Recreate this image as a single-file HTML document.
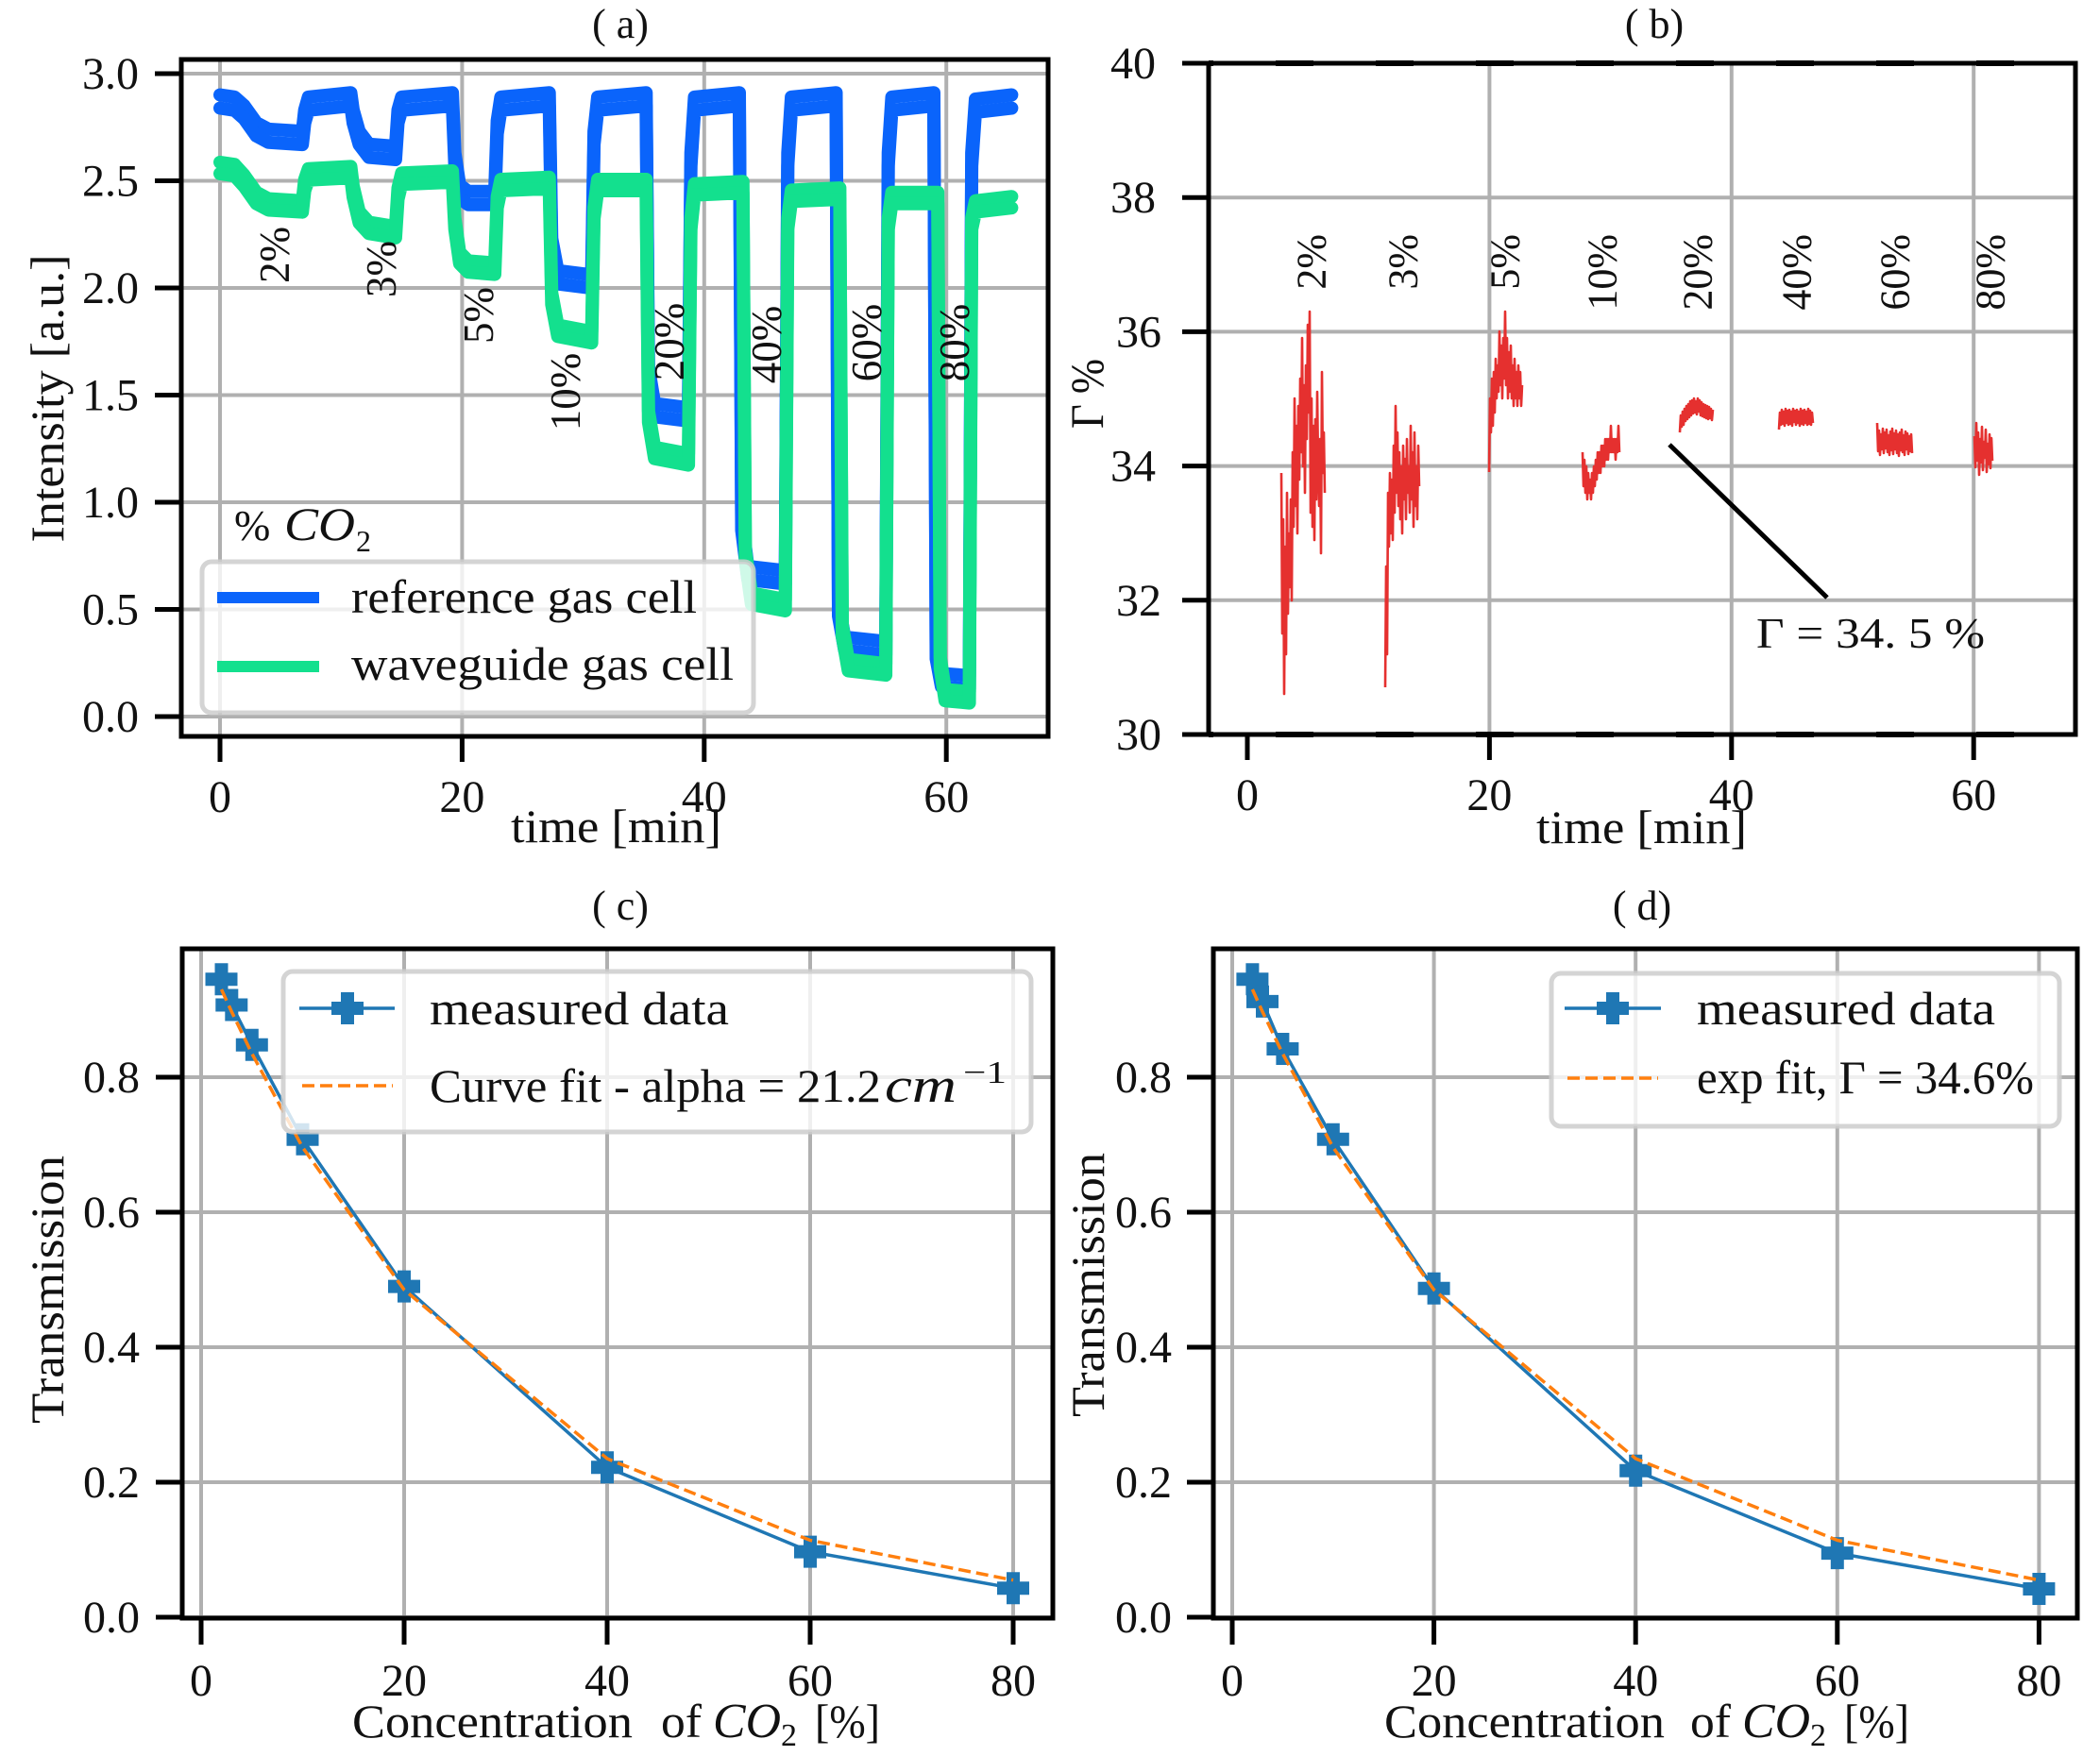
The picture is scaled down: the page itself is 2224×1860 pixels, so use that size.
<!DOCTYPE html>
<html><head><meta charset="utf-8">
<style>
html,body{margin:0;padding:0;background:#fff;}
svg{display:block;}
text{font-family:"Liberation Serif","DejaVu Serif",serif;fill:#111;}
</style></head>
<body>
<svg width="2224" height="1860" viewBox="0 0 2224 1860" xmlns="http://www.w3.org/2000/svg" font-family="Liberation Serif, DejaVu Serif, serif">
<defs>
<clipPath id="ca"><rect x="192" y="63" width="918" height="717"/></clipPath>
<clipPath id="cb"><rect x="1280" y="67" width="918" height="711"/></clipPath>
<path id="P" d="M-7,-17 H7 V-7 H17 V7 H7 V17 H-7 V7 H-17 V-7 H-7 Z" fill="#1f77b4"/>
<path id="bluePath" fill="none" stroke="#0a64fb" stroke-width="14" stroke-linejoin="round" stroke-linecap="round" d="M233,107.5 L248.4,109.8 L258.6,118.9 L271.5,137 L284.3,143.8 L320.2,146.1 L322.7,123.4 L326.6,109.8 L371.5,105.2 L374,123.4 L380.4,146.1 L390.7,159.7 L418.9,162 L421.5,123.4 L425.3,109.8 L479.1,105.2 L481.7,168.8 L486.8,202.9 L495.8,209.7 L524,209.7 L526.6,134.8 L530.4,109.8 L581.7,105.2 L584.3,259.6 L590.7,293.7 L626.6,298.2 L629.1,146.1 L633,109.8 L684.3,105.2 L686.8,395.8 L693.2,434.4 L729.1,438.9 L731.7,168.8 L735.5,109.8 L783,105.2 L785.5,554.7 L792,606.9 L831.7,611.5 L834.3,168.8 L838.1,109.8 L885.5,105.2 L888,645.5 L894.5,681.8 L938.1,686.4 L940.7,168.8 L944.5,109.8 L989,105.2 L991.5,690.9 L997,720.4 L1026.6,722.7 L1029.1,168.8 L1033,112 L1071.4,107.5"/>
<path id="greenPath" fill="none" stroke="#13e08e" stroke-width="14" stroke-linejoin="round" stroke-linecap="round" d="M233,177.9 L248.4,180.2 L258.6,191.5 L271.5,209.7 L284.3,216.5 L320.2,218.7 L322.7,196 L326.6,184.7 L371.5,182.4 L374,202.9 L380.4,230.1 L390.7,241.4 L418.9,246 L421.5,205.1 L425.3,189.2 L479.1,187 L481.7,236.9 L486.8,273.2 L495.8,282.3 L524,284.6 L526.6,214.2 L530.4,196 L581.7,193.8 L584.3,316.4 L590.7,350.4 L626.6,357.2 L629.1,225.5 L633,196 L684.3,196 L686.8,441.2 L693.2,479.8 L729.1,486.6 L731.7,236.9 L735.5,200.6 L786.8,198.3 L789.4,588.8 L795.8,634.2 L831.7,641 L834.3,236.9 L838.1,207.4 L889.4,205.1 L892,668.2 L898.4,704.5 L938.1,709.1 L940.7,236.9 L944.5,209.7 L993.2,209.7 L995.8,702.3 L1000.9,736.3 L1026.6,738.6 L1029.1,236.9 L1033,218.7 L1071.4,214.2"/>
</defs>

<!-- ================= PANEL (a) ================= -->
<text x="657" y="40" font-size="44" text-anchor="middle">( a)</text>
<g stroke="#b0b0b0" stroke-width="4">
  <line x1="233" y1="63" x2="233" y2="780"/>
  <line x1="489.4" y1="63" x2="489.4" y2="780"/>
  <line x1="745.8" y1="63" x2="745.8" y2="780"/>
  <line x1="1002.2" y1="63" x2="1002.2" y2="780"/>
  <line x1="192" y1="759" x2="1110" y2="759"/>
  <line x1="192" y1="645.5" x2="1110" y2="645.5"/>
  <line x1="192" y1="532" x2="1110" y2="532"/>
  <line x1="192" y1="418.5" x2="1110" y2="418.5"/>
  <line x1="192" y1="305" x2="1110" y2="305"/>
  <line x1="192" y1="191.5" x2="1110" y2="191.5"/>
  <line x1="192" y1="78" x2="1110" y2="78"/>
</g>
<g clip-path="url(#ca)">
  <use href="#bluePath" transform="translate(0,-7)"/>
  <use href="#bluePath" transform="translate(0,7)"/>
  <use href="#greenPath" transform="translate(0,-6)"/>
  <use href="#greenPath" transform="translate(0,6)"/>
</g>
<g font-size="45" text-anchor="middle" dominant-baseline="central" font-family="Liberation Serif, serif">
  <text transform="translate(291,270) rotate(-90)">2%</text>
  <text transform="translate(404,285) rotate(-90)">3%</text>
  <text transform="translate(507,334) rotate(-90)">5%</text>
  <text transform="translate(599,415) rotate(-90)">10%</text>
  <text transform="translate(709,362) rotate(-90)">20%</text>
  <text transform="translate(812,365) rotate(-90)">40%</text>
  <text transform="translate(918,363) rotate(-90)">60%</text>
  <text transform="translate(1011,363) rotate(-90)">80%</text>
</g>
<text x="248" y="572" font-size="46">%</text>
<text x="301" y="572" font-size="50" font-style="italic" textLength="75" lengthAdjust="spacingAndGlyphs">CO</text>
<text x="377" y="584" font-size="32">2</text>
<rect x="214" y="595" width="584" height="160" rx="10" ry="10" fill="#fff" fill-opacity="0.8" stroke="#cccccc" stroke-opacity="0.85" stroke-width="5"/>
<line x1="230" y1="633" x2="338" y2="633" stroke="#0a64fb" stroke-width="12"/>
<line x1="230" y1="706" x2="338" y2="706" stroke="#13e08e" stroke-width="12"/>
<text x="372" y="649" font-size="50" textLength="366" lengthAdjust="spacingAndGlyphs">reference gas cell</text>
<text x="372" y="720" font-size="50" textLength="405" lengthAdjust="spacingAndGlyphs">waveguide gas cell</text>
<rect x="192" y="63" width="918" height="717" fill="none" stroke="#000" stroke-width="5"/>
<g stroke="#000" stroke-width="5">
  <line x1="164" y1="759" x2="192" y2="759"/>
  <line x1="164" y1="645.5" x2="192" y2="645.5"/>
  <line x1="164" y1="532" x2="192" y2="532"/>
  <line x1="164" y1="418.5" x2="192" y2="418.5"/>
  <line x1="164" y1="305" x2="192" y2="305"/>
  <line x1="164" y1="191.5" x2="192" y2="191.5"/>
  <line x1="164" y1="78" x2="192" y2="78"/>
  <line x1="233" y1="780" x2="233" y2="807"/>
  <line x1="489.4" y1="780" x2="489.4" y2="807"/>
  <line x1="745.8" y1="780" x2="745.8" y2="807"/>
  <line x1="1002.2" y1="780" x2="1002.2" y2="807"/>
</g>
<g font-size="48" text-anchor="end" font-family="Liberation Serif, serif">
  <text x="147" y="775">0.0</text>
  <text x="147" y="661.5">0.5</text>
  <text x="147" y="548">1.0</text>
  <text x="147" y="434.5">1.5</text>
  <text x="147" y="321">2.0</text>
  <text x="147" y="207.5">2.5</text>
  <text x="147" y="94">3.0</text>
</g>
<g font-size="48" text-anchor="middle" font-family="Liberation Serif, serif">
  <text x="233" y="860">0</text>
  <text x="489.4" y="860">20</text>
  <text x="745.8" y="860">40</text>
  <text x="1002.2" y="860">60</text>
</g>
<text x="541" y="892" font-size="50" textLength="223" lengthAdjust="spacingAndGlyphs">time [min]</text>
<text transform="translate(50,422) rotate(-90)" font-size="50" text-anchor="middle" dominant-baseline="central" textLength="305" lengthAdjust="spacingAndGlyphs">Intensity [a.u.]</text>

<!-- ================= PANEL (b) ================= -->
<text x="1752" y="40" font-size="44" text-anchor="middle">( b)</text>
<g stroke="#b0b0b0" stroke-width="4">
  <line x1="1577.4" y1="67" x2="1577.4" y2="778"/>
  <line x1="1833.8" y1="67" x2="1833.8" y2="778"/>
  <line x1="2090.2" y1="67" x2="2090.2" y2="778"/>
  <line x1="1280" y1="209.2" x2="2198" y2="209.2"/>
  <line x1="1280" y1="351.4" x2="2198" y2="351.4"/>
  <line x1="1280" y1="493.6" x2="2198" y2="493.6"/>
  <line x1="1280" y1="635.8" x2="2198" y2="635.8"/>
</g>
<g clip-path="url(#cb)" fill="none" stroke="#e5302f" stroke-width="2.6" stroke-linejoin="round">
<polyline points="1357,501 1358,671 1359,550 1360,735 1361,579 1362,693 1363,522 1364,650 1365,565 1366,622 1367,529 1368,636 1369,479 1370,558 1371,422 1372,536 1373,451 1374,565 1375,430 1376,508 1377,401 1378,479 1379,358 1380,494 1381,408 1382,522 1383,387 1384,465 1385,344 1386,437 1387,330 1388,543 1389,422 1390,558 1391,451 1392,572 1393,444 1394,529 1395,415 1396,494 1397,536 1398,465 1399,586 1400,394 1401,501 1402,458 1403,522"/>
<polyline points="1467,728 1468,600 1469,693 1470,522 1471,579 1472,501 1473,565 1474,508 1475,572 1476,472 1477,543 1478,430 1479,522 1480,458 1481,536 1482,479 1483,550 1484,494 1485,565 1486,472 1487,529 1488,486 1489,550 1490,465 1491,522 1492,494 1493,543 1494,451 1495,529 1496,479 1497,558 1498,458 1499,536 1500,494 1501,550 1502,472 1503,515"/>
<polyline points="1577,500 1578,422 1579,458 1580,401 1581,451 1582,394 1583,437 1584,380 1585,422 1586,387 1587,415 1588,351 1589,408 1590,366 1591,422 1592,358 1593,401 1594,330 1595,408 1596,358 1597,422 1598,373 1599,415 1600,366 1601,422 1602,387 1603,430 1604,380 1605,422 1606,394 1607,430 1608,387 1609,422 1610,394 1611,430 1612,408"/>
<polyline points="1676,479 1677,515 1678,487 1679,522 1680,494 1681,529 1682,501 1683,522 1684,508 1685,529 1686,501 1687,522 1688,494 1689,515 1690,487 1691,508 1692,479 1693,501 1694,479 1695,501 1696,472 1697,494 1698,472 1699,494 1700,465 1701,487 1702,465 1703,487 1704,465 1705,479 1706,451 1707,479 1708,465 1709,479 1710,465 1711,487 1712,465 1713,479 1714,451 1715,479"/>
<polyline points="1779,458 1780,440 1781,452 1782,436 1783,450 1784,433 1785,446 1786,430 1787,444 1788,428 1789,442 1790,425 1791,440 1792,424 1793,438 1794,422 1795,437 1796,425 1797,439 1798,422 1799,436 1800,424 1801,440 1802,426 1803,441 1804,428 1805,442 1806,429 1807,443 1808,430 1809,444 1810,431 1811,443 1812,433 1813,445 1814,434"/>
<polyline points="1884,455 1885,437 1886,450 1887,434 1888,449 1889,436 1890,451 1891,433 1892,448 1893,435 1894,450 1895,434 1896,449 1897,436 1898,451 1899,433 1900,447 1901,435 1902,450 1903,434 1904,448 1905,436 1906,451 1907,433 1908,449 1909,435 1910,450 1911,434 1912,448 1913,436 1914,450 1915,433 1916,449 1917,435 1918,450 1919,437 1920,448"/>
<polyline points="1988,448 1989,478 1990,456 1991,482 1992,460 1993,476 1994,454 1995,480 1996,458 1997,475 1998,455 1999,479 2000,461 2001,482 2002,457 2003,477 2004,454 2005,481 2006,459 2007,476 2008,456 2009,480 2010,460 2011,483 2012,458 2013,477 2014,455 2015,479 2016,461 2017,482 2018,457 2019,476 2020,459 2021,481 2022,462 2023,478 2024,460 2025,480"/>
<polyline points="2091,462 2092,495 2093,448 2094,488 2095,458 2096,503 2097,465 2098,490 2099,452 2100,498 2101,468 2102,485 2103,455 2104,500 2105,470 2106,492 2107,460 2108,496 2109,464 2110,488"/>
</g>
<line x1="1768" y1="471" x2="1935" y2="633" stroke="#000" stroke-width="5"/>
<text x="1860" y="686" font-size="46" textLength="242" lengthAdjust="spacingAndGlyphs">Γ = 34. 5 %</text>
<g font-size="44" text-anchor="end" dominant-baseline="central" font-family="Liberation Serif, serif">
  <text transform="translate(1389,248) rotate(-90)">2%</text>
  <text transform="translate(1486,248) rotate(-90)">3%</text>
  <text transform="translate(1594,248) rotate(-90)">5%</text>
  <text transform="translate(1697,248) rotate(-90)">10%</text>
  <text transform="translate(1798,248) rotate(-90)">20%</text>
  <text transform="translate(1903,248) rotate(-90)">40%</text>
  <text transform="translate(2007,248) rotate(-90)">60%</text>
  <text transform="translate(2108,248) rotate(-90)">80%</text>
</g>
<rect x="1280" y="67" width="918" height="711" fill="none" stroke="#000" stroke-width="5"/>
<g stroke="#000" stroke-width="6" stroke-dasharray="40 66" stroke-dashoffset="35">
  <line x1="1280" y1="67" x2="2198" y2="67"/>
  <line x1="1280" y1="778" x2="2198" y2="778"/>
</g>
<g stroke="#000" stroke-width="5">
  <line x1="1252" y1="67" x2="1280" y2="67"/>
  <line x1="1252" y1="209.2" x2="1280" y2="209.2"/>
  <line x1="1252" y1="351.4" x2="1280" y2="351.4"/>
  <line x1="1252" y1="493.6" x2="1280" y2="493.6"/>
  <line x1="1252" y1="635.8" x2="1280" y2="635.8"/>
  <line x1="1252" y1="778" x2="1280" y2="778"/>
  <line x1="1321" y1="778" x2="1321" y2="805"/>
  <line x1="1577.4" y1="778" x2="1577.4" y2="805"/>
  <line x1="1833.8" y1="778" x2="1833.8" y2="805"/>
  <line x1="2090.2" y1="778" x2="2090.2" y2="805"/>
</g>
<g font-size="48" text-anchor="end" font-family="Liberation Serif, serif">
  <text x="1224" y="83">40</text>
  <text x="1224" y="225.2">38</text>
  <text x="1230" y="367.4">36</text>
  <text x="1224" y="509.6">34</text>
  <text x="1230" y="651.8">32</text>
  <text x="1230" y="794">30</text>
</g>
<g font-size="48" text-anchor="middle" font-family="Liberation Serif, serif">
  <text x="1321" y="858">0</text>
  <text x="1577.4" y="858">20</text>
  <text x="1833.8" y="858">40</text>
  <text x="2090.2" y="858">60</text>
</g>
<text x="1627" y="893" font-size="50" textLength="223" lengthAdjust="spacingAndGlyphs">time [min]</text>
<text transform="translate(1151,417) rotate(-90)" font-size="50" text-anchor="middle" dominant-baseline="central" textLength="74" lengthAdjust="spacingAndGlyphs">Γ %</text>

<!-- ================= PANEL (c) ================= -->
<text x="657" y="974" font-size="44" text-anchor="middle">( c)</text>
<g stroke="#b0b0b0" stroke-width="4">
  <line x1="213" y1="1005" x2="213" y2="1714"/>
  <line x1="428" y1="1005" x2="428" y2="1714"/>
  <line x1="643" y1="1005" x2="643" y2="1714"/>
  <line x1="858" y1="1005" x2="858" y2="1714"/>
  <line x1="1073" y1="1005" x2="1073" y2="1714"/>
  <line x1="193" y1="1713" x2="1115" y2="1713"/>
  <line x1="193" y1="1570" x2="1115" y2="1570"/>
  <line x1="193" y1="1427" x2="1115" y2="1427"/>
  <line x1="193" y1="1284" x2="1115" y2="1284"/>
  <line x1="193" y1="1141" x2="1115" y2="1141"/>
</g>
<polyline fill="none" stroke="#1f77b4" stroke-width="3.5" stroke-linejoin="round" points="234.5,1037.3 245.3,1064.5 266.8,1106.7 320.5,1206.8 428,1362.6 643,1554.3 858,1643.6 1073,1682.3"/>
<g>
  <use href="#P" x="234.5" y="1037.3"/>
  <use href="#P" x="245.3" y="1064.5"/>
  <use href="#P" x="266.8" y="1106.7"/>
  <use href="#P" x="320.5" y="1206.8"/>
  <use href="#P" x="428" y="1362.6"/>
  <use href="#P" x="643" y="1554.3"/>
  <use href="#P" x="858" y="1643.6"/>
  <use href="#P" x="1073" y="1682.3"/>
</g>
<polyline fill="none" stroke="#ff7f0e" stroke-width="3.5" stroke-dasharray="13 6" points="234.5,1048 245.3,1071.6 266.8,1116 320.5,1215.4 428,1366.2 643,1545 858,1631.5 1073,1673.7"/>
<rect x="300" y="1029" width="792" height="170" rx="10" ry="10" fill="#fff" fill-opacity="0.8" stroke="#cccccc" stroke-opacity="0.85" stroke-width="5"/>
<line x1="317" y1="1068" x2="418" y2="1068" stroke="#1f77b4" stroke-width="3.5"/>
<use href="#P" x="368" y="1068"/>
<line x1="320" y1="1150" x2="416" y2="1150" stroke="#ff7f0e" stroke-width="3.5" stroke-dasharray="13 6"/>
<text x="455" y="1085" font-size="50" textLength="317" lengthAdjust="spacingAndGlyphs">measured data</text>
<text x="455" y="1167" font-size="50" textLength="478" lengthAdjust="spacingAndGlyphs">Curve fit - alpha = 21.2</text>
<text x="937" y="1167" font-size="52" font-style="italic" textLength="76" lengthAdjust="spacingAndGlyphs">cm</text>
<text x="1020" y="1147" font-size="34" textLength="46" lengthAdjust="spacingAndGlyphs">−1</text>
<rect x="193" y="1005" width="922" height="709" fill="none" stroke="#000" stroke-width="5"/>
<g stroke="#000" stroke-width="5">
  <line x1="165" y1="1713" x2="193" y2="1713"/>
  <line x1="165" y1="1570" x2="193" y2="1570"/>
  <line x1="165" y1="1427" x2="193" y2="1427"/>
  <line x1="165" y1="1284" x2="193" y2="1284"/>
  <line x1="165" y1="1141" x2="193" y2="1141"/>
  <line x1="213" y1="1714" x2="213" y2="1742"/>
  <line x1="428" y1="1714" x2="428" y2="1742"/>
  <line x1="643" y1="1714" x2="643" y2="1742"/>
  <line x1="858" y1="1714" x2="858" y2="1742"/>
  <line x1="1073" y1="1714" x2="1073" y2="1742"/>
</g>
<g font-size="48" text-anchor="end" font-family="Liberation Serif, serif">
  <text x="148" y="1729">0.0</text>
  <text x="148" y="1586">0.2</text>
  <text x="148" y="1443">0.4</text>
  <text x="148" y="1300">0.6</text>
  <text x="148" y="1157">0.8</text>
</g>
<g font-size="48" text-anchor="middle" font-family="Liberation Serif, serif">
  <text x="213" y="1796">0</text>
  <text x="428" y="1796">20</text>
  <text x="643" y="1796">40</text>
  <text x="858" y="1796">60</text>
  <text x="1073" y="1796">80</text>
</g>
<text x="373" y="1840" font-size="50" textLength="297" lengthAdjust="spacingAndGlyphs">Concentration</text>
<text x="700" y="1840" font-size="50" textLength="43" lengthAdjust="spacingAndGlyphs">of</text>
<text x="755" y="1840" font-size="52" font-style="italic" textLength="72" lengthAdjust="spacingAndGlyphs">CO</text>
<text x="827" y="1849" font-size="34">2</text>
<text x="863" y="1840" font-size="50" textLength="69" lengthAdjust="spacingAndGlyphs">[%]</text>
<text transform="translate(50,1366) rotate(-90)" font-size="50" text-anchor="middle" dominant-baseline="central" textLength="284" lengthAdjust="spacingAndGlyphs">Transmission</text>

<!-- ================= PANEL (d) ================= -->
<text x="1739" y="974" font-size="44" text-anchor="middle">( d)</text>
<g stroke="#b0b0b0" stroke-width="4">
  <line x1="1305" y1="1005" x2="1305" y2="1714"/>
  <line x1="1518.6" y1="1005" x2="1518.6" y2="1714"/>
  <line x1="1732.2" y1="1005" x2="1732.2" y2="1714"/>
  <line x1="1945.8" y1="1005" x2="1945.8" y2="1714"/>
  <line x1="2159.4" y1="1005" x2="2159.4" y2="1714"/>
  <line x1="1285" y1="1713" x2="2200" y2="1713"/>
  <line x1="1285" y1="1570" x2="2200" y2="1570"/>
  <line x1="1285" y1="1427" x2="2200" y2="1427"/>
  <line x1="1285" y1="1284" x2="2200" y2="1284"/>
  <line x1="1285" y1="1141" x2="2200" y2="1141"/>
</g>
<polyline fill="none" stroke="#1f77b4" stroke-width="3.5" stroke-linejoin="round" points="1326.4,1037.3 1337,1060.9 1358.4,1111 1411.8,1206.8 1518.6,1364.8 1732.2,1557.8 1945.8,1645.1 2159.4,1683"/>
<g>
  <use href="#P" x="1326.4" y="1037.3"/>
  <use href="#P" x="1337" y="1060.9"/>
  <use href="#P" x="1358.4" y="1111"/>
  <use href="#P" x="1411.8" y="1206.8"/>
  <use href="#P" x="1518.6" y="1364.8"/>
  <use href="#P" x="1732.2" y="1557.8"/>
  <use href="#P" x="1945.8" y="1645.1"/>
  <use href="#P" x="2159.4" y="1683"/>
</g>
<polyline fill="none" stroke="#ff7f0e" stroke-width="3.5" stroke-dasharray="13 6" points="1326.4,1048 1337,1071.6 1358.4,1116 1411.8,1215.4 1518.6,1366.2 1732.2,1545 1945.8,1631.5 2159.4,1673.7"/>
<rect x="1643" y="1031" width="538" height="162" rx="10" ry="10" fill="#fff" fill-opacity="0.8" stroke="#cccccc" stroke-opacity="0.85" stroke-width="5"/>
<line x1="1657" y1="1068" x2="1759" y2="1068" stroke="#1f77b4" stroke-width="3.5"/>
<use href="#P" x="1708" y="1068"/>
<line x1="1660" y1="1142" x2="1756" y2="1142" stroke="#ff7f0e" stroke-width="3.5" stroke-dasharray="13 6"/>
<text x="1797" y="1085" font-size="50" textLength="316" lengthAdjust="spacingAndGlyphs">measured data</text>
<text x="1797" y="1158" font-size="50" textLength="357" lengthAdjust="spacingAndGlyphs">exp fit, Γ = 34.6%</text>
<rect x="1285" y="1005" width="915" height="709" fill="none" stroke="#000" stroke-width="5"/>
<g stroke="#000" stroke-width="5">
  <line x1="1257" y1="1713" x2="1285" y2="1713"/>
  <line x1="1257" y1="1570" x2="1285" y2="1570"/>
  <line x1="1257" y1="1427" x2="1285" y2="1427"/>
  <line x1="1257" y1="1284" x2="1285" y2="1284"/>
  <line x1="1257" y1="1141" x2="1285" y2="1141"/>
  <line x1="1305" y1="1714" x2="1305" y2="1742"/>
  <line x1="1518.6" y1="1714" x2="1518.6" y2="1742"/>
  <line x1="1732.2" y1="1714" x2="1732.2" y2="1742"/>
  <line x1="1945.8" y1="1714" x2="1945.8" y2="1742"/>
  <line x1="2159.4" y1="1714" x2="2159.4" y2="1742"/>
</g>
<g font-size="48" text-anchor="end" font-family="Liberation Serif, serif">
  <text x="1241" y="1729">0.0</text>
  <text x="1241" y="1586">0.2</text>
  <text x="1241" y="1443">0.4</text>
  <text x="1241" y="1300">0.6</text>
  <text x="1241" y="1157">0.8</text>
</g>
<g font-size="48" text-anchor="middle" font-family="Liberation Serif, serif">
  <text x="1305" y="1796">0</text>
  <text x="1518.6" y="1796">20</text>
  <text x="1732.2" y="1796">40</text>
  <text x="1945.8" y="1796">60</text>
  <text x="2159.4" y="1796">80</text>
</g>
<text x="1466" y="1840" font-size="50" textLength="297" lengthAdjust="spacingAndGlyphs">Concentration</text>
<text x="1790" y="1840" font-size="50" textLength="43" lengthAdjust="spacingAndGlyphs">of</text>
<text x="1845" y="1840" font-size="52" font-style="italic" textLength="72" lengthAdjust="spacingAndGlyphs">CO</text>
<text x="1917" y="1849" font-size="34">2</text>
<text x="1953" y="1840" font-size="50" textLength="69" lengthAdjust="spacingAndGlyphs">[%]</text>
<text transform="translate(1152,1361) rotate(-90)" font-size="50" text-anchor="middle" dominant-baseline="central" textLength="280" lengthAdjust="spacingAndGlyphs">Transmission</text>
</svg>
</body></html>
